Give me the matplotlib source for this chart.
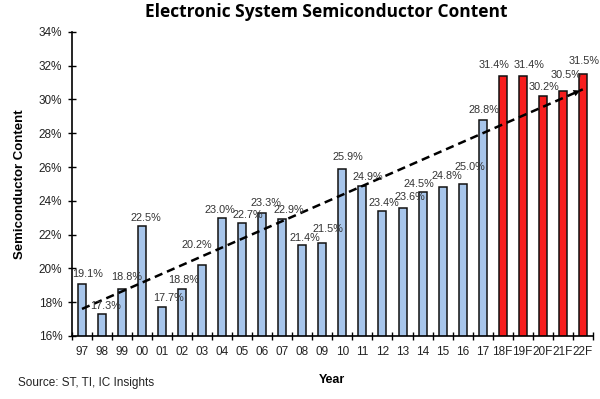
import numpy as np
import matplotlib.pyplot as plt

# 数据
years = ["97", "98", "99", "00", "01", "02", "03", "04", "05", "06", "07", "08", "09",
         "10", "11", "12", "13", "14", "15", "16", "17", "18F", "19F", "20F", "21F", "22F"]
content = [19.1, 17.3, 18.8, 22.5, 17.7, 18.8, 20.2, 23.0, 22.7, 23.3, 22.9, 21.4, 21.5,
           25.9, 24.9, 23.4, 23.6, 24.5, 24.8, 25.0, 28.8, 31.4, 31.4, 30.2, 30.5, 31.5]
n_forecast = 5
trend_x = [0, 25]
trend_y = [17.6, 30.6]

# 标签偏移 (像素)
label_dx = [6, 4, 5, 4, 6, 1, -5, -2, 6, 4, 6, 3, 6, 5, 5, 1, 7, -4, 4, 7, 1, -9, 6, 1, 3, 1]
label_dy = [10, 8, 12, 8, 9, 9, 20, 8, 8, 10, 9, 7, 14, 12, 9, 8, 11, 8, 11, 17, 10, 11, 11, 9, 16, 13]

plt.rcParams['font.family'] = ['Liberation Sans', 'DejaVu Sans']

fig = plt.figure(figsize=(6, 3.99), dpi=100)
ax = fig.add_axes([0.12, 0.158, 0.868, 0.762])

x = np.arange(len(years))
colors = ['#a7c5ea'] * (len(years) - n_forecast) + ['#f71d1d'] * n_forecast
ax.bar(x, content, width=0.4, color=colors, edgecolor='#111111', linewidth=1.1, zorder=2)

# 数据标签
for xi, v, dx, dy in zip(x, content, label_dx, label_dy):
    ax.annotate(f"{v:.1f}%", (xi, v), xytext=(dx, dy), textcoords='offset pixels',
                ha='center', va='center', fontsize=7.8, color='#333333', zorder=4)

# 趋势箭头
ax.plot(trend_x, trend_y, color='black', lw=1.8, dashes=(3.3, 2.0), zorder=3)
ddx = trend_x[1] - trend_x[0]
ddy = trend_y[1] - trend_y[0]
ax.annotate('', xy=(trend_x[1], trend_y[1]),
            xytext=(trend_x[1] - 0.04 * ddx, trend_y[1] - 0.04 * ddy),
            arrowprops=dict(arrowstyle='-|>', color='black', lw=0, mutation_scale=12),
            zorder=3)

ax.set_ylim(16, 34)
ax.set_xlim(-0.5, len(years) - 0.5)
ax.set_yticks(np.arange(16, 35, 2))
ax.set_yticklabels([f"{t}%" for t in range(16, 35, 2)])
ax.set_xticks(np.arange(-0.5, len(years), 1))
ax.set_xticklabels([])
ax.set_xticks(x, minor=True)
ax.set_xticklabels(years, minor=True)
ax.tick_params(axis='x', which='minor', length=0, pad=7, labelsize=8.5, labelcolor='#222222')
ax.tick_params(axis='x', which='major', direction='inout', length=6, width=1)
ax.tick_params(axis='y', direction='inout', length=6, width=1, labelsize=8.5,
               labelcolor='#222222', pad=4)

for s in ['top', 'right']:
    ax.spines[s].set_visible(False)
for s in ['left', 'bottom']:
    ax.spines[s].set_linewidth(1.2)

ax.set_ylabel("Semiconductor Content", fontsize=9.5, fontweight='bold', labelpad=9)
ax.set_xlabel("Year", fontsize=9, fontweight='bold', labelpad=12)

fig.text(0.543, 0.97, "Electronic System Semiconductor Content", ha='center', va='center',
         fontsize=12.5, fontweight='bold', family=['Open Sans', 'DejaVu Sans'])
fig.text(0.03, 0.04, "Source: ST, TI, IC Insights", ha='left', va='center', fontsize=8.5,
         color='#222222')

plt.savefig("out.png", dpi=100)
